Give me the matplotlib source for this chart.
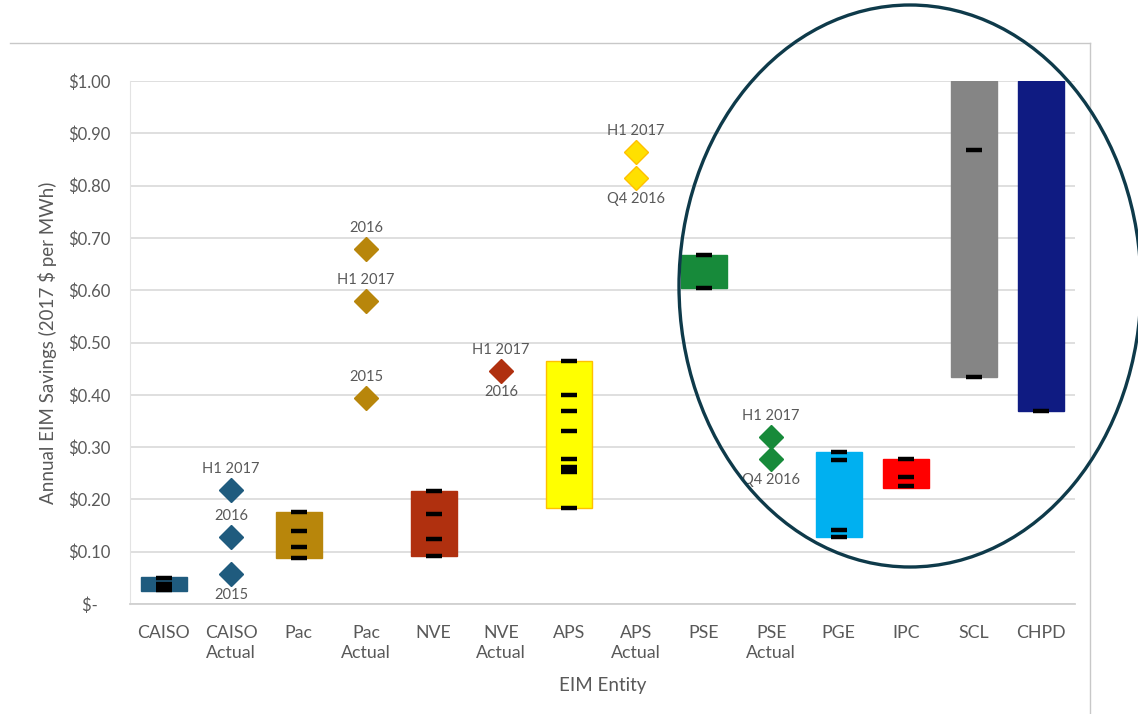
import matplotlib
matplotlib.use("Agg")
import matplotlib.pyplot as plt
from matplotlib.patches import Ellipse
from matplotlib.lines import Line2D

plt.rcParams['font.family'] = ['Lato', 'DejaVu Sans']

categories = ["CAISO", "CAISO\nActual", "Pac", "Pac\nActual", "NVE", "NVE\nActual",
              "APS", "APS\nActual", "PSE", "PSE\nActual", "PGE", "IPC", "SCL", "CHPD"]

# Range bars (index, low, high, colour, edge)
bar_idx = [0, 2, 4, 6, 8, 10, 11, 12, 13]
bar_low = [0.024, 0.088, 0.092, 0.183, 0.604, 0.128, 0.222, 0.434, 0.369]
bar_high = [0.052, 0.176, 0.216, 0.465, 0.667, 0.290, 0.277, 1.00, 1.00]
bar_colors = ["#1F5B7E", "#B8860B", "#B0300F", "#FFFF00", "#178A3A", "#00B0F0",
              "#FF0000", "#858585", "#0F1B82"]
bar_edges = ["#1F5B7E", "#B8860B", "#B0300F", "#FFC000", "#178A3A", "#00B0F0",
             "#FF0000", "#858585", "#0F1B82"]

# Black tick marks inside bars (scenario values)
tick_marks = {
    0: [0.050, 0.038, 0.033, 0.029, 0.026],
    2: [0.176, 0.140, 0.109, 0.088],
    4: [0.216, 0.172, 0.124, 0.092],
    6: [0.465, 0.400, 0.369, 0.331, 0.277, 0.262, 0.257, 0.252, 0.183],
    8: [0.667, 0.604],
    10: [0.290, 0.275, 0.142, 0.128],
    11: [0.277, 0.243, 0.226],
    12: [0.868, 0.434],
    13: [0.369],
}

# Actual (diamond) points: index, value, label, label position, colour
act_idx = [1, 1, 1, 3, 3, 3, 5, 7, 7, 9, 9]
act_val = [0.057, 0.128, 0.218, 0.394, 0.579, 0.679, 0.446, 0.814, 0.864, 0.277, 0.319]
act_lab = ["2015", "2016", "H1 2017", "2015", "H1 2017", "2016", "H1 2017",
           "Q4 2016", "H1 2017", "Q4 2016", "H1 2017"]
act_pos = ["below", "above", "above", "above", "above", "above", "above",
           "below", "above", "below", "above"]
act_col = ["#1F5B7E"] * 3 + ["#B8860B"] * 3 + ["#B0300F"] + ["#FFE000"] * 2 + ["#178A3A"] * 2
act_edge = ["#1F5B7E"] * 3 + ["#B8860B"] * 3 + ["#B0300F"] + ["#FFC000"] * 2 + ["#178A3A"] * 2
extra_labels = [(5, 0.446, "2016", "below")]

yticks = [0.0, 0.1, 0.2, 0.3, 0.4, 0.5, 0.6, 0.7, 0.8, 0.9, 1.0]
ytick_labels = ["$-   ", "$0.10", "$0.20", "$0.30", "$0.40", "$0.50",
                "$0.60", "$0.70", "$0.80", "$0.90", "$1.00"]

W, H = 1138, 714
fig = plt.figure(figsize=(W / 100, H / 100), dpi=100)
ax = fig.add_axes([130 / W, (H - 604) / H, (1075 - 130) / W, (604 - 81) / H])

txt = "#595959"
ax.set_xlim(-0.5, len(categories) - 0.5)
ax.set_ylim(0, 1.0)
ax.set_yticks(yticks)
ax.set_yticklabels(ytick_labels, fontsize=12, color=txt)
ax.set_xticks(range(len(categories)))
ax.set_xticklabels(categories, fontsize=12.8, color=txt, linespacing=1.35)
ax.tick_params(length=0, pad=14)
ax.tick_params(axis='x', pad=15)
ax.grid(axis='y', color="#D9D9D9", linewidth=1.2)
ax.set_axisbelow(True)
for s in ["top", "right"]:
    ax.spines[s].set_visible(False)
ax.spines["left"].set_color("#E3E3E3")
ax.spines["bottom"].set_color("#D0D0D0")
ax.spines["bottom"].set_linewidth(1.3)

bw = 0.68
heights = [h - l for l, h in zip(bar_low, bar_high)]
ax.bar(bar_idx, heights, bottom=bar_low, width=bw, color=bar_colors,
       edgecolor=bar_edges, linewidth=1.0, zorder=2)

for i, vals in tick_marks.items():
    ax.hlines(vals, i - 0.12, i + 0.12, colors="black", linewidth=3.2, zorder=3)

for i, v, c, e in zip(act_idx, act_val, act_col, act_edge):
    ax.plot(i, v, marker="D", markersize=12.5, color=c, markeredgecolor=e,
            markeredgewidth=1.0, linestyle="none", zorder=4)

for i, v, lab, pos in list(zip(act_idx, act_val, act_lab, act_pos)) + extra_labels:
    off = 15 if pos == "above" else -15
    ax.annotate(lab, (i, v), xytext=(0, off), textcoords="offset points",
                ha="center", va="center", fontsize=10.5, color=txt, zorder=5)

ax.set_xlabel("EIM Entity", fontsize=13.5, color=txt, labelpad=11)
ax.set_ylabel("Annual EIM Savings (2017 $ per MWh)", fontsize=13.5, color=txt, labelpad=8)

# chart area border (top and right)
fig.add_artist(Line2D([10 / W, 1090 / W], [1 - 43 / H, 1 - 43 / H],
                      transform=fig.transFigure, color="#C8C8C8", linewidth=1.0))
fig.add_artist(Line2D([1090 / W, 1090 / W], [1 - 43 / H, 0],
                      transform=fig.transFigure, color="#C8C8C8", linewidth=1.0))

# highlight ellipse
ell = Ellipse((910 / W, 1 - 286 / H), 462 / W, 562 / H, transform=fig.transFigure,
              fill=False, edgecolor="#0E3A4A", linewidth=2.4, zorder=10)
fig.add_artist(ell)

fig.savefig("out.png", dpi=100)
